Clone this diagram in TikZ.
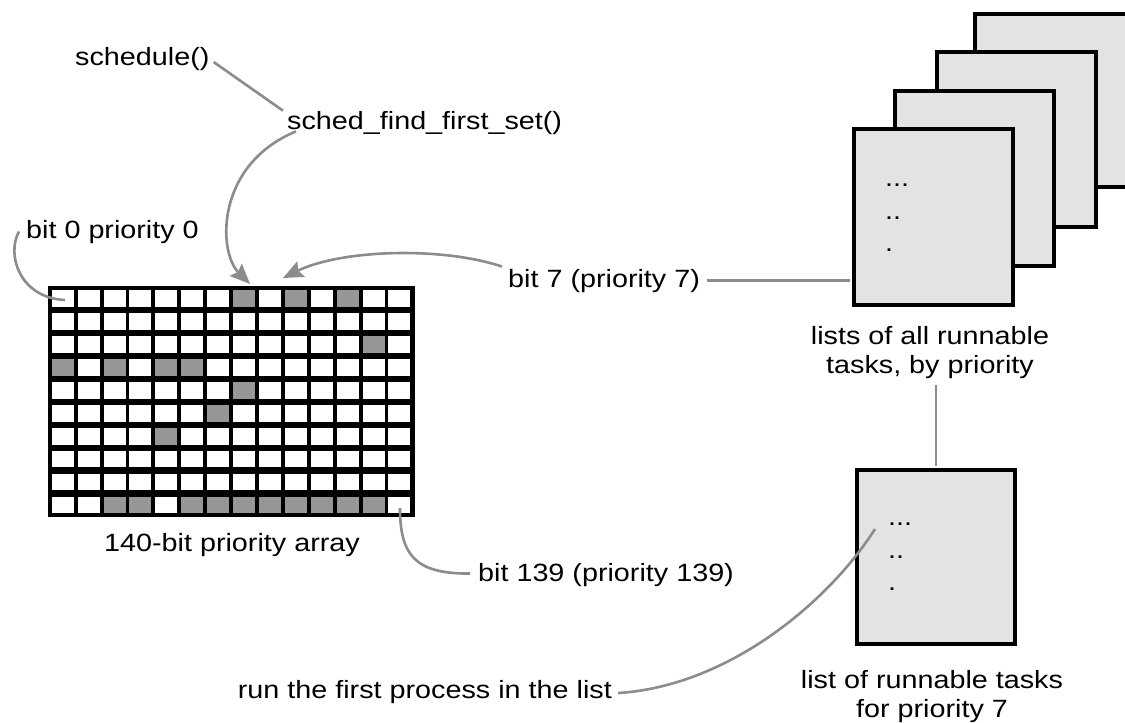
\documentclass[tikz,border=0pt]{standalone}
\usepackage{fontspec}
\setmainfont{Liberation Sans}[FakeStretch=1.15]
\usetikzlibrary{arrows.meta}
\definecolor{cellgray}{RGB}{150,150,150}
\definecolor{boxgray}{RGB}{227,227,227}
\definecolor{linegray}{RGB}{140,140,140}
\begin{document}
\begin{tikzpicture}[x=1pt,y=-1pt,
  lbl/.style={inner sep=0pt, font=\fontsize{25}{29}\selectfont},
  conn/.style={draw=linegray, line width=2.6pt},
  arr/.style={conn, -{Stealth[length=20pt,width=17pt,inset=3pt]}},
  listbox/.style={draw=black, line width=3.8pt, fill=boxgray, inner sep=0pt, anchor=north west},
  dotlbl/.style={inner sep=0pt, anchor=base west, font=\fontsize{25}{29}\selectfont},
  cellw/.style={fill=white},
  cellg/.style={fill=cellgray}]

\useasboundingbox (0,0) rectangle (1125,723);
\fill[white] (0,0) rectangle (1125,723);

% 140-bit priority array
\node[fill=black, inner sep=0pt, minimum width=367pt, minimum height=231pt, anchor=north west] (grid) at (48,286) {};
\foreach \j in {0,...,9}{\foreach \i in {0,...,13}{
  \fill[cellw] ({51.7+\i*25.9},{290+\j*22.97}) rectangle +(22,16.7);}}
\foreach \i/\j in {7/0,9/0,11/0,12/2,0/3,2/3,4/3,5/3,7/4,6/5,4/6,2/9,3/9,5/9,6/9,7/9,8/9,9/9,10/9,11/9,12/9}{
  \fill[cellg] ({51.7+\i*25.9},{290+\j*22.97}) rectangle +(22,16.7);}
\coordinate (cell0) at (65,300);
\coordinate (cell139) at (400,508);
\coordinate (tip1) at (250,284);
\coordinate (tip7) at (283,278);

% labels
\node[lbl, anchor=base west] (schedule) at (75,65) {schedule()};
\node[lbl, anchor=base west] (sfs) at (287,129) {sched\_find\_first\_set()};
\node[lbl, anchor=base west] (bit0) at (26,238) {bit 0 priority 0};
\node[lbl, anchor=base west] (bit7) at (508,287) {bit 7 (priority 7)};
\node[lbl, anchor=base] (arrlbl) at (232,551) {140-bit priority array};
\node[lbl, anchor=base west] (bit139) at (478,581) {bit 139 (priority 139)};
\node[lbl, anchor=base east] (run) at (612,698) {run the first process in the list};
\node[lbl, align=center, anchor=north] (lists) at (930,326) {lists of all runnable\\tasks, by priority};
\node[lbl, align=center, anchor=north] (onelist) at (932,670) {list of runnable tasks\\for priority 7};

% stacked lists
\node[listbox, minimum width=159pt, minimum height=173pt] (box4) at (973,12) {};
\node[listbox, minimum width=159pt, minimum height=175pt] (box3) at (935,50) {};
\node[listbox, minimum width=159pt, minimum height=175pt] (box2) at (893,89) {};
\node[listbox, minimum width=159pt, minimum height=176pt] (box1) at (852,127) {};
\node[dotlbl] (d1) at (885,186) {...};
\node[dotlbl] (d2) at (885,219) {..};
\node[dotlbl] (d3) at (885,251) {.};

% list for priority 7
\node[listbox, minimum width=158pt, minimum height=174pt] (prio7) at (855,468) {};
\node[dotlbl] (e1) at (888,525) {...};
\node[dotlbl] (e2) at (888,558) {..};
\node[dotlbl] (e3) at (888,590) {.};
\coordinate (runend) at (875,529);

% connectors
\draw[conn] ([shift={(4,3.5)}]schedule.east) -- ([shift={(-4,0)}]sfs.north west);
\draw[arr] ([shift={(9,-3)}]sfs.south west) .. controls (215,165) and (218,252) .. (tip1);
\draw[arr] ([shift={(-6,-14)}]bit7.west) .. controls (440,246) and (340,250) .. (tip7);
\draw[conn] ([xshift=-7pt]bit0.west) .. controls (6,255) and (20,298) .. (cell0);
\draw[conn] ([shift={(-8,-1)}]bit139.west) .. controls (415,574) and (400,555) .. (cell139);
\draw[conn] ([xshift=7pt]bit7.east) -- ([xshift=-2pt]bit7.east -| box1.west);
\draw[conn] ([yshift=-6.5pt]prio7.north |- lists.south) -- ([yshift=2pt]prio7.north);
\draw[conn] ([shift={(6,1.5)}]run.east) .. controls (730,686) and (830,600) .. (runend);
\end{tikzpicture}
\end{document}
